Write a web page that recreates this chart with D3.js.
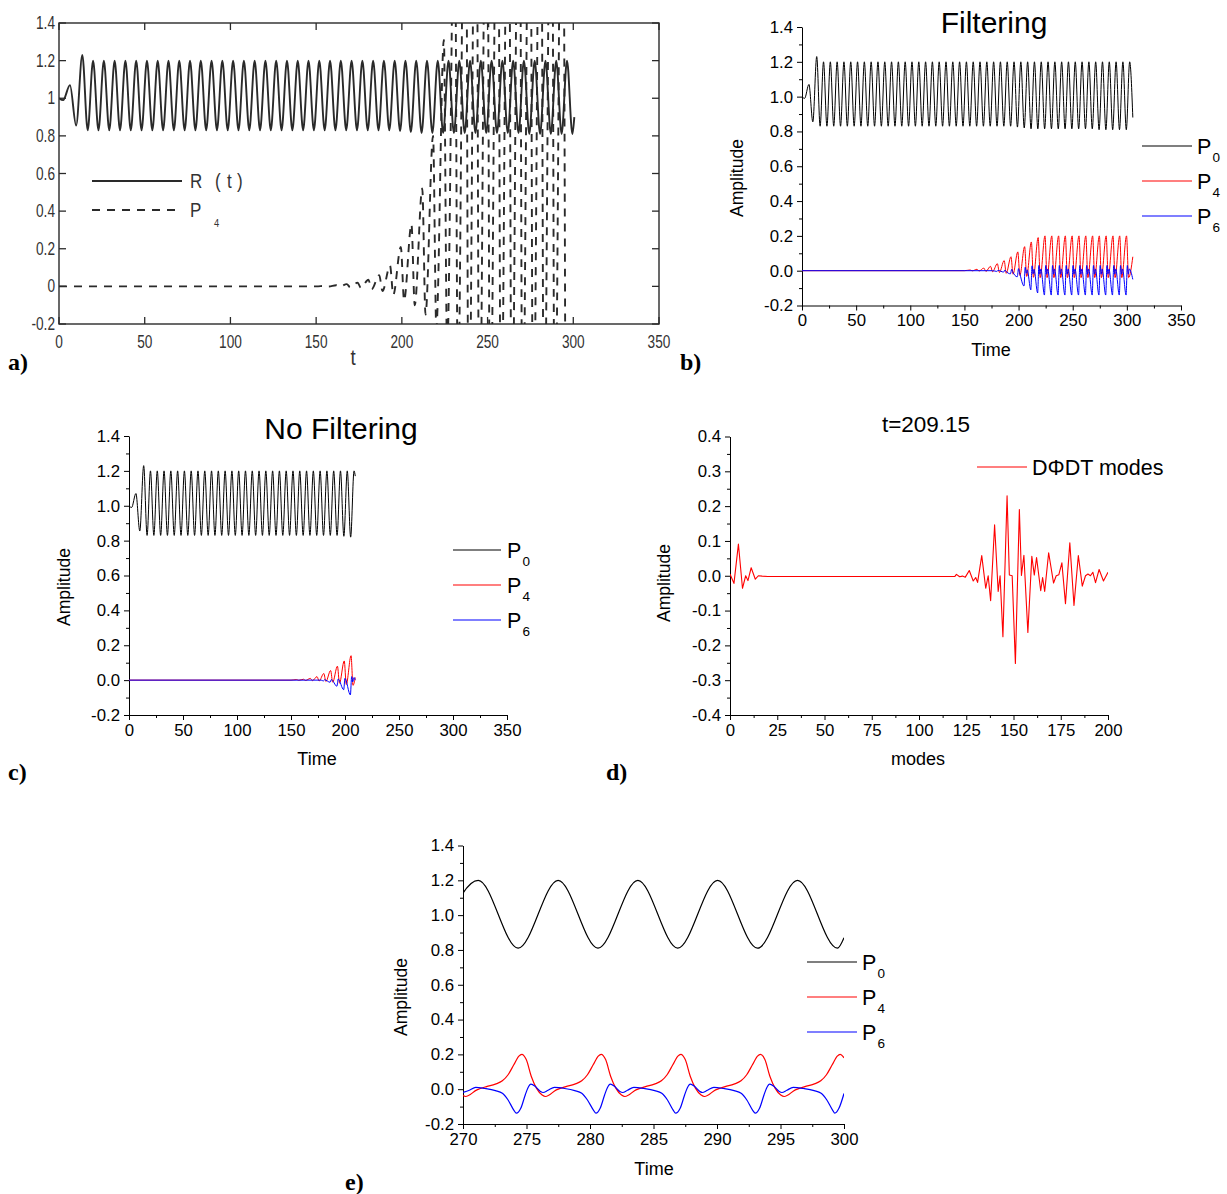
<!DOCTYPE html>
<html><head><meta charset="utf-8">
<script src="https://cdn.jsdelivr.net/npm/d3@7"></script>
<style>
html,body{margin:0;padding:0;background:#fff;}
svg{display:block;}
</style></head><body>
<svg id="fig" width="1227" height="1194"></svg>
<script>
// ---------------- DATA ----------------
// P0 / R(t) extrema [time, amplitude] (shared by panels a,b,c,e)
const p0Extrema = [
[0,1.0],[2.4,0.99],[6.4,1.07],[10,0.855],[13.6,1.23],[16.74,0.83],
[19.88,1.2],[23.02,0.83],[26.17,1.2],[29.31,0.83],[32.45,1.2],[35.59,0.83],[38.73,1.2],[41.87,0.83],
[45.02,1.2],[48.16,0.83],[51.3,1.2],[54.44,0.83],[57.58,1.2],[60.72,0.83],[63.86,1.2],[67.0,0.83],
[70.15,1.2],[73.29,0.83],[76.43,1.2],[79.57,0.83],[82.71,1.2],[85.85,0.83],[89.0,1.2],[92.14,0.83],
[95.28,1.2],[98.42,0.83],[101.56,1.2],[104.7,0.83],[107.85,1.2],[110.99,0.83],[114.13,1.2],[117.27,0.83],
[120.41,1.2],[123.55,0.83],[126.69,1.2],[129.83,0.83],[132.98,1.2],[136.12,0.83],[139.26,1.2],[142.4,0.83],
[145.54,1.2],[148.68,0.83],[151.83,1.2],[154.97,0.83],[158.11,1.2],[161.25,0.83],[164.39,1.2],[167.53,0.83],
[170.68,1.2],[173.82,0.83],[176.96,1.2],[180.1,0.83],[183.24,1.2],[186.38,0.83],[189.52,1.2],[192.66,0.83],
[195.81,1.2],[198.95,0.825],[202.09,1.2],[205.23,0.82],[208.37,1.2],[211.51,0.815],[214.66,1.2],[217.8,0.815],
[220.94,1.2],[224.08,0.815],[227.22,1.2],[230.36,0.815],[233.51,1.2],[236.65,0.815],[239.79,1.2],[242.93,0.815],
[246.07,1.2],[249.21,0.815],[252.35,1.2],[255.49,0.815],[258.64,1.2],[261.78,0.815],[264.92,1.2],[268.06,0.815],
[271.2,1.2],[274.34,0.81],[277.49,1.2],[280.63,0.81],[283.77,1.2],[286.91,0.81],[290.05,1.2],[293.19,0.81],
[296.34,1.2],[299.48,0.81]
];
const p0TailA = [[300.6,0.9]];
const p0TailB = [[302.6,1.2],[305.5,0.88]];
const p0TailC = [[209.5,1.17]];
const p0TailE = [[300,0.87]];

// Panel a: P4 (dashed) extrema
const p4A = [
[0,0],[150,0],[155.4,0.003],[157.3,-0.001],[161.7,0.006],[163.6,-0.002],[167.9,0.012],[169.8,-0.004],
[174.2,0.02],[176.1,-0.008],[180.5,0.035],[182.4,-0.015],[186.8,0.06],[188.7,-0.025],[193.1,0.11],[195,-0.045],
[199.4,0.21],[201.3,-0.075],[205.6,0.33],[207.5,-0.1],[211.9,0.52],[213.8,-0.15],[218.2,0.8],[220.1,-0.22],
[224.5,1.31],[226.4,-0.35],[230.8,2.2],[232.7,-0.6],[237.1,3],[239,-1],[243.3,3],[245.2,-1],[249.6,3],[251.5,-1],
[255.9,3],[257.8,-1],[262.2,3],[264.1,-1],[268.5,3],[270.4,-1],[274.7,3],[276.6,-1],[281,3],[282.9,-1],
[287.3,3],[289.2,-1],[293.6,3],[295.5,-1]
];

// Panel b (Filtering): P4 and P6
const p4B = [
[0,0],[150,0],[155.3,0.004],[157.2,-0.001],[161.6,0.008],[163.5,-0.002],[167.9,0.015],[169.8,-0.004],
[174.1,0.025],[176,-0.006],[180.4,0.04],[182.3,-0.01],[186.7,0.058],[188.6,-0.015],[193,0.08],[194.9,-0.02],
[199.3,0.108],[201.2,-0.027],[205.6,0.138],[207.5,-0.033],[211.8,0.165],[213.7,-0.038],[218.1,0.19],[220,-0.04],
[224.4,0.2],[226.3,-0.04],[230.7,0.2],[232.6,-0.04],[237,0.2],[238.9,-0.04],[243.2,0.2],[245.1,-0.04],
[249.5,0.2],[251.4,-0.04],[255.8,0.2],[257.7,-0.04],[262.1,0.2],[264,-0.04],[268.4,0.2],[270.3,-0.04],
[274.6,0.2],[276.5,-0.04],[280.9,0.2],[282.8,-0.04],[287.2,0.2],[289.1,-0.04],[293.4,0.2],[295.3,-0.04],
[299.7,0.2],[301.6,-0.04],[305.5,0.08]
];
const p6B = [
[0,0],[176,0],[179.9,-0.004],[181.05,0.002],[186.2,-0.008],[187.35,0.004],[188.3,-0.003],
[192.5,-0.018],[193.65,0.008],[194.6,-0.006],[198.8,-0.035],[199.95,0.012],[200.9,-0.01],
[205,-0.088],[206.15,0.02],[207.1,-0.015],[208,0.005],[211.3,-0.11],[212.45,0.028],[213.4,-0.018],[214.3,0.008],
[217.6,-0.128],[218.75,0.03],[219.7,-0.02],[220.6,0.01],[223.9,-0.14],[225.05,0.03],[226,-0.02],[226.9,0.01],
[230.2,-0.14],[231.35,0.03],[232.3,-0.02],[233.2,0.01],[236.5,-0.14],[237.65,0.03],[238.6,-0.02],[239.5,0.01],
[242.8,-0.14],[243.95,0.03],[244.9,-0.02],[245.8,0.01],[249.1,-0.14],[250.25,0.03],[251.2,-0.02],[252.1,0.01],
[255.4,-0.14],[256.55,0.03],[257.5,-0.02],[258.4,0.01],[261.7,-0.14],[262.85,0.03],[263.8,-0.02],[264.7,0.01],
[268,-0.14],[269.15,0.03],[270.1,-0.02],[271,0.01],[274.2,-0.14],[275.35,0.03],[276.3,-0.02],[277.2,0.01],
[280.47,-0.14],[281.62,0.03],[282.57,-0.02],[283.47,0.01],[286.74,-0.14],[287.89,0.03],[288.84,-0.02],[289.74,0.01],
[293.01,-0.14],[294.16,0.03],[295.11,-0.02],[296.01,0.01],[299.28,-0.14],[300.43,0.03],[301.38,-0.02],[302.28,0.01],
[305.5,-0.05]
];

// Panel c (No Filtering): P4 and P6
const p4C = [
[0,0],[150,0],[155.3,0.003],[157.2,-0.001],[161.6,0.005],[163.5,-0.002],[167.9,0.01],[169.8,-0.003],
[174.1,0.02],[176,-0.005],[180.4,0.038],[182.3,-0.008],[186.7,0.055],[188.6,-0.012],[193,0.08],[194.9,-0.018],
[199.3,0.11],[201.2,-0.025],[205.6,0.14],[207.4,-0.03],[209.5,0.015]
];
const p6C = [
[0,0],[178,0],[179.9,-0.005],[181.05,0.002],[186.2,-0.012],[187.35,0.003],[192.5,-0.035],[193.65,0.006],
[198.8,-0.055],[199.95,0.01],[205,-0.085],[206.15,0.02],[207.2,-0.01],[208.3,0.015],[209.5,0.0]
];

// Panel d: DΦDT modes at t=209.15  [mode, amplitude]
const modesD = [
[0,0.005],[2.1,-0.022],[4.45,0.091],[6.6,-0.036],[8.3,0.0],[9.5,-0.014],[11.2,0.023],[13.4,-0.01],[15,0.0],
[17,-0.001],[20,-0.002],[119,-0.002],[119.8,0.004],[121.5,-0.003],[123,-0.001],[124.5,-0.004],[126.6,0.015],
[128.7,-0.015],[130,-0.005],[131,-0.019],[133.2,0.058],[135.3,-0.036],[136.6,0.0],[137.9,-0.072],[140,0.146],
[141.9,-0.045],[142.9,0.0],[144.4,-0.175],[146.6,0.23],[147.8,0.002],[149.3,0.0],[151,-0.252],[153.1,0.19],
[154.2,0.001],[155.5,0.059],[157.6,-0.163],[159.7,0.056],[161,0.002],[162.2,0.052],[164.4,-0.043],[165.4,-0.005],
[166.5,-0.045],[168.6,0.066],[171.2,-0.021],[172.6,0.0],[174,0.003],[175.6,0.037],[177.5,-0.08],[179.8,0.095],
[182,-0.085],[184.3,0.058],[186.4,-0.03],[188.1,0.0],[189.4,0.005],[190.7,0.0],[192,0.01],[193.4,-0.02],
[195.3,0.018],[197.6,-0.015],[200,0.01]
];

// Panel e (zoom 270-300): P4 and P6
const p4E = [
[270.0,-0.037],[270.2,-0.042],[271.1,-0.004],[271.85,0.015],[272.55,0.029],[273.1,0.048],[273.55,0.083],[274.0,0.14],
[274.4,0.19],[274.63,0.2],[274.98,0.17],[275.38,0.073],[275.78,0.006],[276.23,-0.033],[276.5,-0.042],
[277.35,-0.004],[278.1,0.015],[278.8,0.029],[279.35,0.048],[279.8,0.083],[280.25,0.14],[280.65,0.19],[280.88,0.2],
[281.23,0.17],[281.63,0.073],[282.03,0.006],[282.48,-0.033],[282.75,-0.042],
[283.62,-0.004],[284.37,0.015],[285.07,0.029],[285.62,0.048],[286.07,0.083],[286.52,0.14],[286.92,0.19],[287.15,0.2],
[287.5,0.17],[287.9,0.073],[288.3,0.006],[288.75,-0.033],[289.02,-0.042],
[289.89,-0.004],[290.64,0.015],[291.34,0.029],[291.89,0.048],[292.34,0.083],[292.79,0.14],[293.19,0.19],[293.42,0.2],
[293.77,0.17],[294.17,0.073],[294.57,0.006],[295.02,-0.033],[295.29,-0.042],
[296.17,-0.004],[296.92,0.015],[297.62,0.029],[298.17,0.048],[298.62,0.083],[299.07,0.14],[299.47,0.19],[299.7,0.2],[300.0,0.18]
];
const p6E = [
[270.0,-0.019],[270.5,-0.006],[271.0,0.01],[271.7,0.004],[272.55,-0.008],[273.1,-0.023],[273.55,-0.062],[274.0,-0.12],
[274.2,-0.138],[274.55,-0.11],[274.9,-0.033],[275.1,0.006],[275.35,0.029],[275.7,0.015],[276.1,-0.013],[276.3,-0.019],
[276.7,-0.006],[277.2,0.01],[278.0,0.004],[278.8,-0.008],[279.35,-0.023],[279.8,-0.062],[280.27,-0.12],[280.47,-0.138],
[280.8,-0.11],[281.15,-0.033],[281.35,0.006],[281.6,0.029],[281.95,0.015],[282.35,-0.013],[282.57,-0.019],
[282.95,-0.006],[283.45,0.01],[284.25,0.004],[285.1,-0.008],[285.65,-0.023],[286.1,-0.062],[286.55,-0.12],[286.74,-0.138],
[287.1,-0.11],[287.45,-0.033],[287.65,0.006],[287.9,0.029],[288.25,0.015],[288.65,-0.013],[288.84,-0.019],
[289.25,-0.006],[289.75,0.01],[290.5,0.004],[291.35,-0.008],[291.9,-0.023],[292.35,-0.062],[292.8,-0.12],[293.01,-0.138],
[293.35,-0.11],[293.7,-0.033],[293.9,0.006],[294.15,0.029],[294.5,0.015],[294.9,-0.013],[295.11,-0.019],
[295.5,-0.006],[296.0,0.01],[296.8,0.004],[297.65,-0.008],[298.2,-0.023],[298.65,-0.062],[299.1,-0.12],[299.28,-0.138],
[299.6,-0.11],[300.0,-0.025]
];

// Tick values
const timeTicks = [0,50,100,150,200,250,300,350];
const timeMinor = [25,75,125,175,225,275,325];
const ampTicks = [-0.2,0,0.2,0.4,0.6,0.8,1.0,1.2,1.4];
const ampMinor = [-0.1,0.1,0.3,0.5,0.7,0.9,1.1,1.3];
const modeTicks = [0,25,50,75,100,125,150,175,200];
const modeMinor = [12.5,37.5,62.5,87.5,112.5,137.5,162.5,187.5];
const dAmpTicks = [-0.4,-0.3,-0.2,-0.1,0,0.1,0.2,0.3,0.4];
const dAmpMinor = [-0.35,-0.25,-0.15,-0.05,0.05,0.15,0.25,0.35];
const eTimeTicks = [270,275,280,285,290,295,300];
const eTimeMinor = [272.5,277.5,282.5,287.5,292.5,297.5];

const legendP = [{name:"P",sub:"0",color:"#000"},{name:"P",sub:"4",color:"#ff0000"},{name:"P",sub:"6",color:"#0000ff"}];

// ---------------- DRAWING ----------------
const SANS = "'Liberation Sans', Arial, Helvetica, sans-serif";
const SERIF = "'Liberation Serif', 'Times New Roman', serif";
const svg = d3.select("#fig");
const defs = svg.append("defs");
let clipN = 0;
function makeClip(x0,y0,x1,y1){
  const id = "clip"+(clipN++);
  defs.append("clipPath").attr("id",id).append("rect")
    .attr("x",x0).attr("y",y0).attr("width",x1-x0).attr("height",y1-y0);
  return `url(#${id})`;
}
const f1 = d => d.toFixed(1);
const fInt = d => String(d);

function originPanel(o){
  const x = d3.scaleLinear().domain(o.xd).range([o.x0,o.x1]);
  const y = d3.scaleLinear().domain(o.yd).range([o.y1,o.y0]);
  const g = svg.append("g");
  g.append("g").attr("transform",`translate(0,${o.y1})`)
    .call(d3.axisBottom(x).tickValues(o.xMinor).tickSize(3).tickFormat(""))
    .call(s=>s.select(".domain").remove());
  g.append("g").attr("transform",`translate(${o.x0},0)`)
    .call(d3.axisLeft(y).tickValues(o.yMinor).tickSize(3).tickFormat(""))
    .call(s=>s.select(".domain").remove());
  g.append("g").attr("transform",`translate(0,${o.y1})`)
    .call(d3.axisBottom(x).tickValues(o.xMajor).tickSize(5).tickSizeOuter(0).tickPadding(4).tickFormat(o.fx));
  g.append("g").attr("transform",`translate(${o.x0},0)`)
    .call(d3.axisLeft(y).tickValues(o.yMajor).tickSize(5).tickSizeOuter(0).tickPadding(4).tickFormat(o.fy));
  g.selectAll("g").attr("font-size",16.8).attr("font-family",SANS);
  g.selectAll(".tick text").attr("fill","#000");
  g.selectAll(".tick line, path.domain").attr("stroke","#000").attr("stroke-width",1);
  const clip = makeClip(o.x0, o.y0-3, o.x1, o.y1+3);
  return {x,y,g,clip};
}
function drawLine(p, data, color, width, dash, curve){
  const line = d3.line().x(d=>p.x(d[0])).y(d=>p.y(d[1])).curve(curve||d3.curveMonotoneX);
  const path = svg.append("path").datum(data).attr("d",line)
    .attr("fill","none").attr("stroke",color).attr("stroke-width",width)
    .attr("stroke-linejoin","round").attr("clip-path",p.clip);
  if(dash) path.attr("stroke-dasharray",dash);
  return path;
}
function text(x,y,str,size,opts={}){
  const t = svg.append("text").attr("x",x).attr("y",y).text(str)
    .attr("font-size",size).attr("font-family",opts.family||SANS)
    .attr("fill",opts.fill||"#000").attr("text-anchor",opts.anchor||"start");
  if(opts.weight) t.attr("font-weight",opts.weight);
  if(opts.rotate) t.attr("transform",`rotate(-90,${x},${y})`);
  return t;
}
function legendPs(x0,x1,tx,ys){
  legendP.forEach((it,i)=>{
    svg.append("line").attr("x1",x0).attr("x2",x1).attr("y1",ys[i]).attr("y2",ys[i])
      .attr("stroke",it.color).attr("stroke-width",1.2);
    text(tx, ys[i]+8, it.name, 21.5);
    text(tx+15.5, ys[i]+16, it.sub, 13.5);
  });
}
function panelLabel(x,y,s){ text(x,y,s,24,{family:SERIF,weight:"bold"}); }

// ===== Panel a =====
(function(){
  const X0=59,X1=659,Y0=23,Y1=324;
  const x = d3.scaleLinear().domain([0,350]).range([X0,X1]);
  const y = d3.scaleLinear().domain([-0.2,1.4]).range([Y1,Y0]);
  const p = {x,y,clip:makeClip(X0,Y0,X1,Y1)};
  const col = "#2a2a2a";
  svg.append("rect").attr("x",X0).attr("y",Y0).attr("width",X1-X0).attr("height",Y1-Y0)
    .attr("fill","none").attr("stroke",col).attr("stroke-width",1.4);
  const g = svg.append("g");
  ampTicks.forEach(v=>{
    const yy = y(v);
    g.append("line").attr("x1",X0).attr("x2",X0+7).attr("y1",yy).attr("y2",yy).attr("stroke",col).attr("stroke-width",1.3);
    g.append("line").attr("x1",X1-7).attr("x2",X1).attr("y1",yy).attr("y2",yy).attr("stroke",col).attr("stroke-width",1.3);
    g.append("text").attr("transform",`translate(${X0-4},${yy+6}) scale(0.78,1)`).attr("text-anchor","end")
      .attr("font-size",17.5).attr("font-family",SANS).attr("fill","#333").text(String(Math.round(v*10)/10));
  });
  timeTicks.forEach(v=>{
    const xx = x(v);
    g.append("line").attr("x1",xx).attr("x2",xx).attr("y1",Y1-7).attr("y2",Y1).attr("stroke",col).attr("stroke-width",1.3);
    g.append("line").attr("x1",xx).attr("x2",xx).attr("y1",Y0).attr("y2",Y0+7).attr("stroke",col).attr("stroke-width",1.3);
    g.append("text").attr("transform",`translate(${xx},348) scale(0.78,1)`).attr("text-anchor","middle")
      .attr("font-size",17.5).attr("font-family",SANS).attr("fill","#333").text(String(v));
  });
  drawLine(p, p0Extrema.concat(p0TailA), col, 1.9);
  drawLine(p, p4A, col, 1.9, "8,7");
  // legend
  svg.append("line").attr("x1",92).attr("x2",182).attr("y1",181).attr("y2",181).attr("stroke",col).attr("stroke-width",1.9);
  svg.append("line").attr("x1",92).attr("x2",182).attr("y1",210).attr("y2",210).attr("stroke",col).attr("stroke-width",1.9).attr("stroke-dasharray","8,7");
  [["R",190],["(",215],["t",227],[")",237]].forEach(([s,xx])=>{
    svg.append("text").attr("transform",`translate(${xx},188) scale(0.85,1)`).attr("font-size",20).attr("font-family",SANS).attr("fill","#333").text(s);
  });
  svg.append("text").attr("transform",`translate(190,217) scale(0.85,1)`).attr("font-size",20).attr("font-family",SANS).attr("fill","#333").text("P");
  svg.append("text").attr("transform",`translate(214,227) scale(0.85,1)`).attr("font-size",11).attr("font-family",SANS).attr("fill","#333").text("4");
  svg.append("text").attr("transform",`translate(353,365) scale(0.85,1)`).attr("text-anchor","middle").attr("font-size",22).attr("font-family",SANS).attr("fill","#333").text("t");
  panelLabel(8,370,"a)");
})();

// ===== Panel b =====
(function(){
  const p = originPanel({x0:802,x1:1181,y0:27,y1:305.5,xd:[0,350],yd:[-0.2,1.4],
    xMajor:timeTicks,xMinor:timeMinor,yMajor:ampTicks,yMinor:ampMinor,fx:fInt,fy:f1});
  drawLine(p, p0Extrema.concat(p0TailB), "#000", 1);
  drawLine(p, p4B, "#ff0000", 1);
  drawLine(p, p6B, "#0000ff", 1);
  text(994,33,"Filtering",30,{anchor:"middle"});
  text(743,178,"Amplitude",17.5,{anchor:"middle",rotate:true});
  text(991,356,"Time",18,{anchor:"middle"});
  legendPs(1142,1192,1197,[146,181,216]);
  panelLabel(680,370,"b)");
})();

// ===== Panel c =====
(function(){
  const p = originPanel({x0:129,x1:507,y0:436,y1:715,xd:[0,350],yd:[-0.2,1.4],
    xMajor:timeTicks,xMinor:timeMinor,yMajor:ampTicks,yMinor:ampMinor,fx:fInt,fy:f1});
  drawLine(p, p0Extrema.filter(d=>d[0]<=208.4).concat(p0TailC), "#000", 1);
  drawLine(p, p4C, "#ff0000", 1);
  drawLine(p, p6C, "#0000ff", 1);
  text(341,439,"No Filtering",30,{anchor:"middle"});
  text(70,587,"Amplitude",17.5,{anchor:"middle",rotate:true});
  text(317,765,"Time",18,{anchor:"middle"});
  legendPs(453,501,507,[550,585,620]);
  panelLabel(8,780,"c)");
})();

// ===== Panel d =====
(function(){
  const p = originPanel({x0:730,x1:1108,y0:436.5,y1:715,xd:[0,200],yd:[-0.4,0.4],
    xMajor:modeTicks,xMinor:modeMinor,yMajor:dAmpTicks,yMinor:dAmpMinor,fx:fInt,fy:f1});
  drawLine(p, modesD, "#ff0000", 1.1, null, d3.curveLinear);
  text(926,432,"t=209.15",22.5,{anchor:"middle"});
  text(670,583,"Amplitude",17.5,{anchor:"middle",rotate:true});
  text(918,765,"modes",18,{anchor:"middle"});
  svg.append("line").attr("x1",977).attr("x2",1027).attr("y1",467).attr("y2",467).attr("stroke","#ff0000").attr("stroke-width",1.2);
  text(1032,475,"DΦDT modes",21.5);
  panelLabel(606,780,"d)");
})();

// ===== Panel e =====
(function(){
  const p = originPanel({x0:463,x1:844,y0:845.5,y1:1124,xd:[270,300],yd:[-0.2,1.4],
    xMajor:eTimeTicks,xMinor:eTimeMinor,yMajor:ampTicks,yMinor:ampMinor,fx:fInt,fy:f1});
  drawLine(p, p0Extrema.filter(d=>d[0]>=268).concat(p0TailE), "#000", 1.2);
  drawLine(p, p4E, "#ff0000", 1.2);
  drawLine(p, p6E, "#0000ff", 1.2);
  text(407,997,"Amplitude",17.5,{anchor:"middle",rotate:true});
  text(654,1175,"Time",18,{anchor:"middle"});
  legendPs(807,857,862,[962,997,1032]);
  panelLabel(345,1190,"e)");
})();
</script>
</body></html>
